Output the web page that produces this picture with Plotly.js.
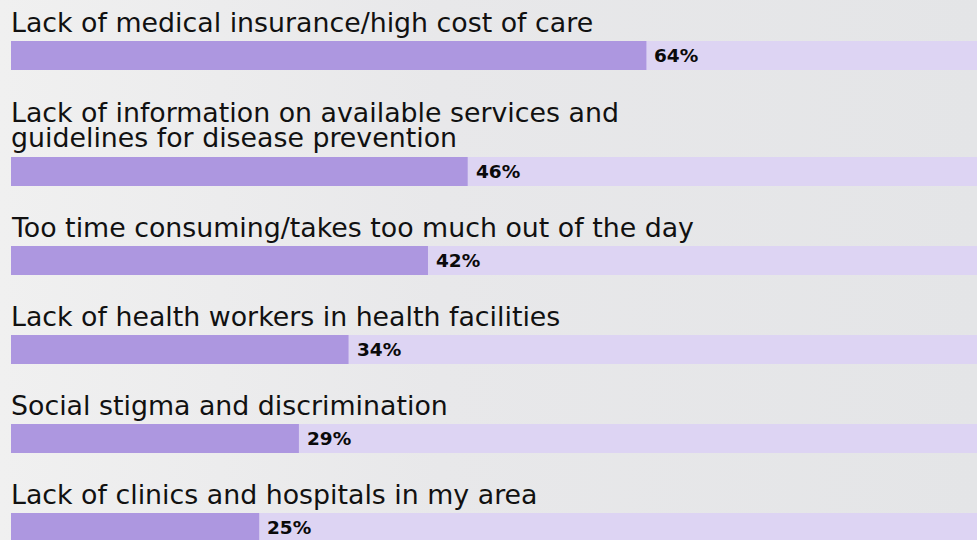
<!DOCTYPE html>
<html>
<head>
<meta charset="utf-8">
<script src="https://cdn.plot.ly/plotly-3.0.1.min.js"></script>
<style>
  html, body { margin: 0; padding: 0; }
  body { width: 977px; height: 540px; background: linear-gradient(90deg, #f0f0f0 0%, #e8e8ea 45%, #e4e5e7 100%); overflow: hidden; }
  #chart { width: 977px; height: 540px; }
</style>
</head>
<body>
<div id="chart"></div>
<script>
// ---- data ----
const categories = [
  "Lack of medical insurance/high cost of care",
  "Lack of information on available services and<br>guidelines for disease prevention",
  "Too time consuming/takes too much out of the day",
  "Lack of health workers in health facilities",
  "Social stigma and discrimination",
  "Lack of clinics and hospitals in my area"
];
const values = [64, 46, 42, 34, 29, 25];
const valueLabels = ["64%", "46%", "42%", "34%", "29%", "25%"];
const fullScale = 100;

// ---- layout helpers (positions derived from label line counts) ----
const lineH = 27, blockGap = 62, firstCenter = 55.5, textLineH = 24.5;
const centers = [];
let c = firstCenter;
categories.forEach((cat, i) => {
  if (i > 0) c += blockGap + lineH * cat.split("<br>").length;
  centers.push(c);
});

const fillColor = "#ad97e0";
const trackColor = "#ddd4f3";
const labelFont = "'DejaVu Sans', sans-serif";

const traces = [
  {
    type: "bar", orientation: "h",
    x: categories.map(() => fullScale), y: centers,
    width: 29, marker: { color: trackColor }, hoverinfo: "skip", showlegend: false
  },
  {
    type: "bar", orientation: "h",
    x: values, y: centers,
    width: 29, marker: { color: fillColor }, hoverinfo: "skip", showlegend: false
  }
];

const annotations = [];
categories.forEach((cat, i) => {
  const lines = cat.split("<br>");
  lines.forEach((ln, k) => {
    annotations.push({
      x: 0, y: centers[i], xref: "x", yref: "y",
      text: ln, showarrow: false, xanchor: "left", yanchor: "bottom", align: "left",
      yshift: 15.5 + (lines.length - 1) * 1.5 + (lines.length - 1 - k) * textLineH, xshift: -2,
      font: { family: labelFont, size: 26.8, color: "#111111" }
    });
  });
  annotations.push({
    x: values[i], y: centers[i], xref: "x", yref: "y",
    text: "<b>" + valueLabels[i] + "</b>", showarrow: false, xanchor: "left", yanchor: "middle",
    xshift: 6,
    font: { family: labelFont, size: 18.5, color: "#0a0a0a" }
  });
});

const layout = {
  width: 977, height: 540,
  margin: { l: 11, r: 0, t: 0, b: 0, pad: 0 },
  paper_bgcolor: "rgba(0,0,0,0)", plot_bgcolor: "rgba(0,0,0,0)",
  barmode: "overlay",
  xaxis: { range: [0, 97.3], visible: false, fixedrange: true },
  yaxis: { range: [540, 0], visible: false, fixedrange: true },
  annotations: annotations,
  showlegend: false
};

Plotly.newPlot("chart", traces, layout, { displayModeBar: false, staticPlot: true });
</script>
</body>
</html>
